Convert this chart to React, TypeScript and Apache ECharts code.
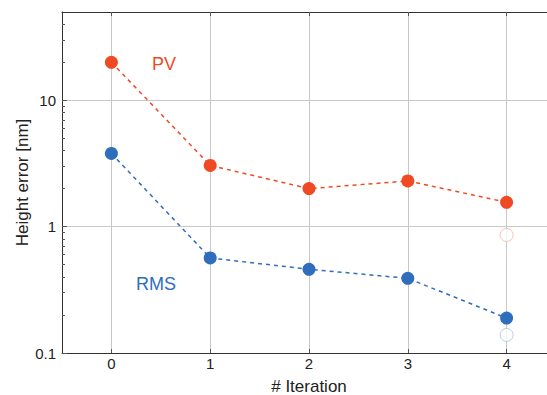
import React, { useEffect, useRef } from 'react';
import * as echarts from 'echarts';

const iterations = [0, 1, 2, 3, 4];
const pvValues = [20, 3.05, 2.0, 2.3, 1.56];
const rmsValues = [3.8, 0.565, 0.46, 0.39, 0.189];
const pvExtraX = [4];
const pvExtraValues = [0.86];
const rmsExtraX = [4];
const rmsExtraValues = [0.139];
const xTickValues = [0, 1, 2, 3, 4];
const yMajorTicks = [0.1, 1, 10];
const yMinorTicks = [0.2, 0.3, 0.4, 0.5, 0.6, 0.7, 0.8, 0.9, 2, 3, 4, 5, 6, 7, 8, 9, 20, 30, 40];

const RED = '#ef4a24';
const BLUE = '#2f6dbd';
const RED_LIGHT = '#f2b6a6';
const BLUE_LIGHT = '#aebde3';
const FONT = '"Liberation Sans", Arial, sans-serif';

export default function App() {
  const ref = useRef<HTMLDivElement>(null);
  useEffect(() => {
    document.body.style.margin = '0';
    if (!ref.current) return;
    const chart = echarts.init(ref.current, undefined, { renderer: 'svg' });
    const xAxisCommon = {
      type: 'value',
      min: -0.5,
      max: 4.5,
      axisLine: { show: true, onZero: false, lineStyle: { color: '#333', width: 1 } },
      axisTick: { show: true, inside: true, length: 4, customValues: xTickValues, lineStyle: { color: '#555' } },
    };
    chart.setOption({
      animation: false,
      backgroundColor: '#fff',
      textStyle: { fontFamily: FONT },
      grid: { left: 62, top: 12, width: 494, height: 341, containLabel: false, outerBoundsMode: 'none' },
      xAxis: [
        {
          ...xAxisCommon,
          position: 'bottom',
          name: '# Iteration',
          nameLocation: 'middle',
          nameGap: 25,
          nameMoveOverlap: false,
          nameTextStyle: { fontSize: 17, color: '#222', fontFamily: FONT },
          axisLabel: { customValues: xTickValues, fontSize: 15, color: '#222', margin: 3, fontFamily: FONT },
          splitLine: { show: true, lineStyle: { color: '#c8c8c8', width: 1 } },
        },
        {
          ...xAxisCommon,
          position: 'top',
          axisLabel: { show: false },
          splitLine: { show: false },
        },
      ],
      yAxis: [
        {
          type: 'log',
          logBase: 10,
          min: 0.1,
          max: 50,
          name: 'Height error [nm]',
          nameLocation: 'middle',
          nameGap: 31,
          nameMoveOverlap: false,
          nameTextStyle: { fontSize: 17, color: '#222', fontFamily: FONT },
          axisLine: { show: true, onZero: false, lineStyle: { color: '#333', width: 1 } },
          axisTick: { show: true, inside: true, length: 5, customValues: yMajorTicks, lineStyle: { color: '#555' } },
          axisLabel: {
            customValues: yMajorTicks,
            fontSize: 15,
            color: '#222',
            margin: 6,
            fontFamily: FONT,
            formatter: (v: number) => String(v),
          },
          splitLine: { show: true, lineStyle: { color: '#c8c8c8', width: 1 } },
        },
        {
          type: 'log',
          logBase: 10,
          min: 0.1,
          max: 50,
          position: 'left',
          axisLine: { show: false, onZero: false },
          axisTick: { show: true, inside: true, length: 3, customValues: yMinorTicks, lineStyle: { color: '#555' } },
          axisLabel: { show: false },
          splitLine: { show: false },
        },
      ],
      graphic: [
        { type: 'text', left: 152, top: 55, style: { text: 'PV', fill: RED, fontSize: 18, fontFamily: FONT } },
        { type: 'text', left: 136, top: 275, style: { text: 'RMS', fill: BLUE, fontSize: 18, fontFamily: FONT } },
      ],
      series: [
        {
          name: 'PV',
          type: 'line',
          data: iterations.map((x, i) => [x, pvValues[i]]),
          symbol: 'circle',
          symbolSize: 13,
          itemStyle: { color: RED },
          lineStyle: { color: RED, width: 1.5, type: [4, 4] },
          z: 3,
        },
        {
          name: 'RMS',
          type: 'line',
          data: iterations.map((x, i) => [x, rmsValues[i]]),
          symbol: 'circle',
          symbolSize: 13,
          itemStyle: { color: BLUE },
          lineStyle: { color: BLUE, width: 1.5, type: [4, 4] },
          z: 3,
        },
        {
          name: 'PV extra',
          type: 'scatter',
          data: pvExtraX.map((x, i) => [x, pvExtraValues[i]]),
          symbol: 'circle',
          symbolSize: 13,
          itemStyle: { color: '#fff', borderColor: RED_LIGHT, borderWidth: 1 },
          z: 3,
        },
        {
          name: 'RMS extra',
          type: 'scatter',
          data: rmsExtraX.map((x, i) => [x, rmsExtraValues[i]]),
          symbol: 'circle',
          symbolSize: 13,
          itemStyle: { color: '#fff', borderColor: BLUE_LIGHT, borderWidth: 1 },
          z: 3,
        },
      ],
    });
    return () => chart.dispose();
  }, []);
  return <div ref={ref} style={{ width: 547, height: 395 }} />;
}
